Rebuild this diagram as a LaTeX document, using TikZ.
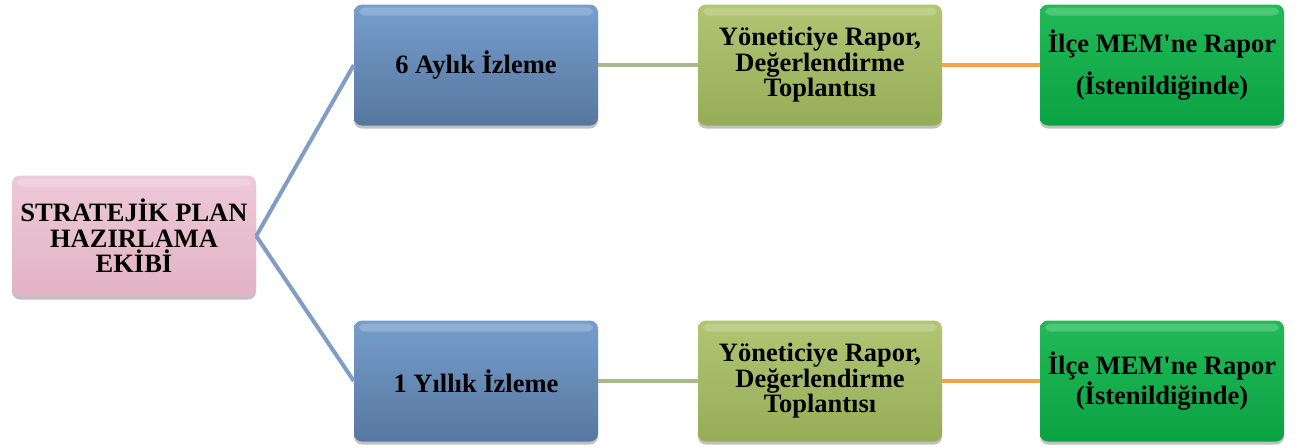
\documentclass[tikz,border=0pt]{standalone}
\usepackage{fontspec}
\setmainfont{Liberation Serif}[Ligatures=TeXOff]
\usetikzlibrary{shadows}
\definecolor{pinkA}{HTML}{EDC9D6}
\definecolor{pinkB}{HTML}{E2B3C4}
\definecolor{blueA}{HTML}{779ECC}
\definecolor{blueB}{HTML}{56779F}
\definecolor{oliveA}{HTML}{B1C573}
\definecolor{oliveB}{HTML}{96AD57}
\definecolor{greenA}{HTML}{22BA58}
\definecolor{greenB}{HTML}{0BA243}
\definecolor{lnBlue}{HTML}{7F9DC6}
\definecolor{lnGreen}{HTML}{A7BA8E}
\definecolor{lnOrange}{HTML}{F2A447}
\tikzset{
  box/.style={rounded corners=8pt, minimum width=244pt, minimum height=121pt,
    align=center, inner sep=2pt,
    font=\fontsize{26.5}{25.5}\selectfont\bfseries,
    drop shadow={shadow xshift=0pt, shadow yshift=-3pt, opacity=0.35, fill=black!70},
    path picture={\fill[white,opacity=0.2,rounded corners=6pt]
      ([xshift=5pt,yshift=-3pt]path picture bounding box.north west) rectangle
      ([xshift=-5pt,yshift=-11pt]path picture bounding box.north east);}},
  rootbox/.style={box, top color=pinkA, bottom color=pinkB},
  bluebox/.style={box, top color=blueA, bottom color=blueB},
  olivebox/.style={box, top color=oliveA, bottom color=oliveB},
  greenbox/.style={box, top color=greenA, bottom color=greenB},
  link/.style={line width=4pt}
}
\begin{document}
\begin{tikzpicture}[x=1pt,y=-1pt]
\useasboundingbox (0,0) rectangle (1301,447);
\node[rootbox]  (root) at (134,236) {STRATEJİK PLAN\\HAZIRLAMA\\EKİBİ};
\node[bluebox]  (b1) at (476,65)  {6 Aylık İzleme};
\node[bluebox]  (b2) at (476,381) {1 Yıllık İzleme};
\node[olivebox] (o1) at (820,65)  {Yöneticiye Rapor,\\Değerlendirme\\Toplantısı};
\node[olivebox] (o2) at (820,381) {Yöneticiye Rapor,\\Değerlendirme\\Toplantısı};
\node[greenbox] (g1) at (1162,65) {İlçe MEM'ne Rapor\\[12pt](İstenildiğinde)};
\node[greenbox] (g2) at (1162,381) {İlçe MEM'ne Rapor\\(İstenildiğinde)};
\draw[link, lnBlue] (root.east) -- (b1.west);
\draw[link, lnBlue] (root.east) -- (b2.west);
\draw[link, lnGreen] (b1.east) -- (o1.west);
\draw[link, lnGreen] (b2.east) -- (o2.west);
\draw[link, lnOrange] (o1.east) -- (g1.west);
\draw[link, lnOrange] (o2.east) -- (g2.west);
\end{tikzpicture}
\end{document}
